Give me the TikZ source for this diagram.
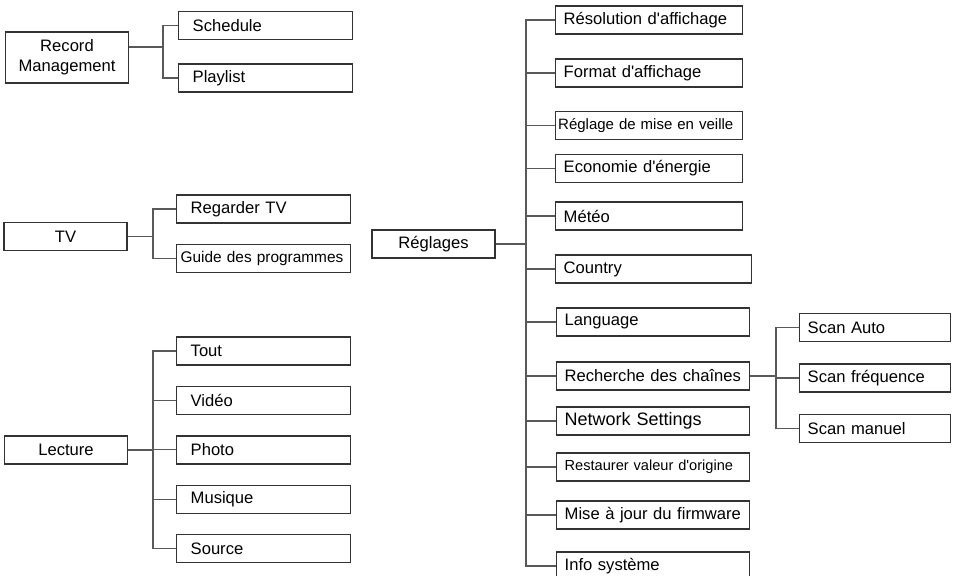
\documentclass[tikz,border=0pt]{standalone}
\usepackage{fontspec}
\setmainfont{Liberation Sans}
\usetikzlibrary{positioning}

\begin{document}
\begin{tikzpicture}[
  x=0.5pt, y=-0.5pt,
  node distance=10pt,
  box/.style={draw=black!80, line width=0.7pt, minimum height=14pt,
    inner ysep=0pt, font=\fontsize{8.3}{10}\selectfont},
  root/.style={box, align=center, minimum width=61.5pt},
  leaf/.style={box, anchor=west, align=left, inner xsep=4pt, text width=#1},
  small/.style={font=\fontsize{#1}{9}\selectfont},
  link/.style={draw=black!65, line width=0.6pt}]
\useasboundingbox (0,0) rectangle (954,575);
% roots
\node[root, minimum height=25.5pt] (rm) at (67,57.5) {Record\\Management};
\node[root] (tv) at (65.5,236.5) {TV};
\node[root] (lec) at (66,450) {Lecture};
\node[root] (reg) at (433.5,244) {Réglages};
% record management
\node[leaf=73pt, inner xsep=7pt] (sched) at (178,25.5) {Schedule};
\node[leaf=73pt, inner xsep=7pt, below=11.5pt of sched] (play) {Playlist};
% tv
\node[leaf=73pt, inner xsep=7pt] (watch) at (176,209) {Regarder TV};
\node[leaf=83pt, inner xsep=2pt, small=7.7, below=of watch] (guide) {Guide des programmes};
% lecture
\node[leaf=73pt, inner xsep=7pt] (tout) at (176,351) {Tout};
\node[leaf=73pt, inner xsep=7pt, below=of tout] (video) {Vidéo};
\node[leaf=73pt, inner xsep=7pt, below=of video] (photo) {Photo};
\node[leaf=73pt, inner xsep=7pt, below=of photo] (music) {Musique};
\node[leaf=73pt, inner xsep=7pt, below=of music] (source) {Source};
% reglages
\node[leaf=85.5pt] (reso) at (555,20) {Résolution d\textquotesingle affichage};
\node[leaf=85.5pt] (fmt) at (555,73) {Format d\textquotesingle affichage};
\node[leaf=91pt, inner xsep=1.25pt, small=7.5] (sleep) at (555,125.5) {Réglage de mise en veille};
\node[leaf=85.5pt] (eco) at (555,168.5) {Economie d\textquotesingle énergie};
\node[leaf=85.5pt] (meteo) at (555,216) {Météo};
\node[leaf=90pt] (country) at (555,269) {Country};
\node[leaf=88.5pt] (lang) at (556,322) {Language};
\node[leaf=88.5pt] (search) at (556,376) {Recherche des chaînes};
\node[leaf=88.5pt, small=9] (net) at (556,421) {Network Settings};
\node[leaf=88.5pt, small=7.3] (reset) at (556,467) {Restaurer valeur d\textquotesingle origine};
\node[leaf=88.5pt] (fw) at (556,515) {Mise à jour du firmware};
\node[leaf=88.5pt] (info) at (556,566) {Info système};
% scan
\node[leaf=67.5pt] (sauto) at (799,327.5) {Scan Auto};
\node[leaf=67.5pt, below=10.5pt of sauto] (sfreq) {Scan fréquence};
\node[leaf=67.5pt, below=10.5pt of sfreq] (sman) {Scan manuel};
% bus lines
\coordinate (rmbus) at (163,47);
\coordinate (tvbus) at (153,237);
\coordinate (lecbus) at (153,450);
\coordinate (regbus) at (526,244);
\coordinate (scanbus) at (776,377);
\draw[link] (rm.east |- rmbus) -- (rmbus);
\draw[link] (sched.west) -- (sched.west -| rmbus) -- (play.west -| rmbus) -- (play.west);
\draw[link] (tv.east) -- (tv.east -| tvbus);
\draw[link] (watch.west) -- (watch.west -| tvbus) -- (guide.west -| tvbus) -- (guide.west);
\draw[link] (lec.east) -- (lec.east -| lecbus);
\draw[link] (tout.west) -- (tout.west -| lecbus) -- (source.west -| lecbus) -- (source.west);
\draw[link] (video.west) -- (video.west -| lecbus);
\draw[link] (photo.west) -- (photo.west -| lecbus);
\draw[link] (music.west) -- (music.west -| lecbus);
\draw[link] (reg.east) -- (reg.east -| regbus);
\draw[link] (reso.west) -- (reso.west -| regbus) -- (info.west -| regbus) -- (info.west);
\draw[link] (fmt.west) -- (fmt.west -| regbus);
\draw[link] (sleep.west) -- (sleep.west -| regbus);
\draw[link] (eco.west) -- (eco.west -| regbus);
\draw[link] (meteo.west) -- (meteo.west -| regbus);
\draw[link] (country.west) -- (country.west -| regbus);
\draw[link] (lang.west) -- (lang.west -| regbus);
\draw[link] (search.west) -- (search.west -| regbus);
\draw[link] (net.west) -- (net.west -| regbus);
\draw[link] (reset.west) -- (reset.west -| regbus);
\draw[link] (fw.west) -- (fw.west -| regbus);
\draw[link] (search.east) -- (search.east -| scanbus);
\draw[link] (sauto.west) -- (sauto.west -| scanbus) -- (sman.west -| scanbus) -- (sman.west);
\draw[link] (sfreq.west) -- (sfreq.west -| scanbus);
\end{tikzpicture}
\end{document}
